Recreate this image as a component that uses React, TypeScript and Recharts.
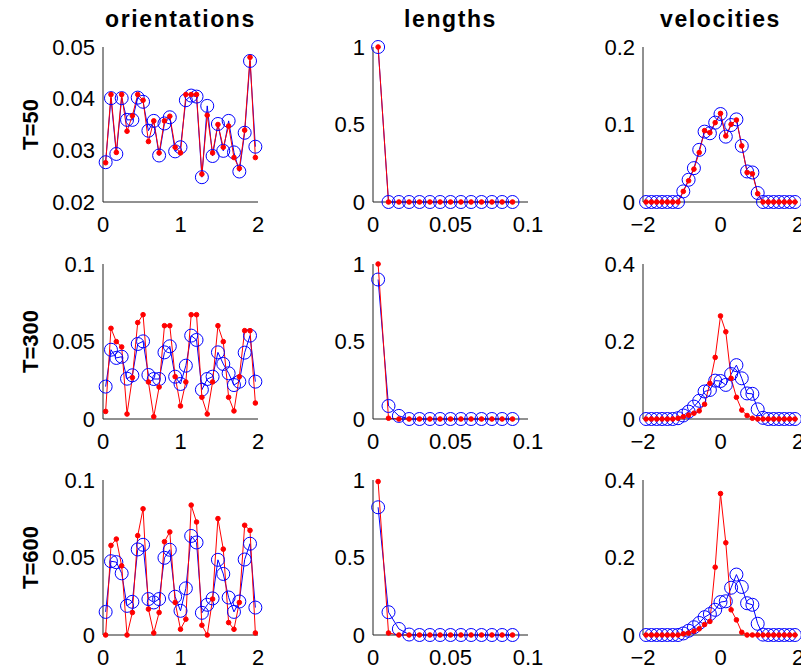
import React from 'react';
import { LineChart, Line, XAxis, YAxis } from 'recharts';

// x positions (bin centres)
const orientX = [0.034, 0.103, 0.172, 0.241, 0.310, 0.379, 0.448, 0.517, 0.586, 0.655, 0.724, 0.793, 0.862, 0.931, 1.000, 1.069, 1.138, 1.207, 1.276, 1.345, 1.414, 1.483, 1.552, 1.621, 1.690, 1.759, 1.828, 1.897, 1.966];
const lengthX = [0.0033, 0.01, 0.0167, 0.0233, 0.03, 0.0367, 0.0433, 0.05, 0.0567, 0.0633, 0.07, 0.0767, 0.0833, 0.09];
const velocityX = [-1.92, -1.783, -1.646, -1.509, -1.371, -1.234, -1.097, -0.96, -0.823, -0.686, -0.549, -0.411, -0.274, -0.137, 0, 0.137, 0.274, 0.411, 0.549, 0.686, 0.823, 0.96, 1.097, 1.234, 1.371, 1.509, 1.646, 1.783, 1.92];

// orientations
const orient50Red = [0.0276, 0.0408, 0.0296, 0.0408, 0.0337, 0.0367, 0.0408, 0.0397, 0.0317, 0.0357, 0.0295, 0.0357, 0.0366, 0.0306, 0.0295, 0.0408, 0.0408, 0.0408, 0.0254, 0.0368, 0.0295, 0.035, 0.0306, 0.0347, 0.0286, 0.0265, 0.0339, 0.048, 0.0286];
const orient50Blue = [0.0277, 0.0401, 0.0293, 0.0401, 0.0359, 0.0359, 0.0402, 0.0394, 0.0338, 0.0357, 0.029, 0.0352, 0.0364, 0.0298, 0.0306, 0.0397, 0.0406, 0.0404, 0.0248, 0.0386, 0.0289, 0.0351, 0.0299, 0.0357, 0.0296, 0.0259, 0.0334, 0.0473, 0.0307];
const orient300Red = [0.0049, 0.0585, 0.0499, 0.0465, 0.0032, 0.0267, 0.0622, 0.0673, 0.0239, 0.0015, 0.0206, 0.0602, 0.0602, 0.0273, 0.0084, 0.0239, 0.0673, 0.0673, 0.014, 0.0032, 0.0239, 0.0602, 0.0499, 0.014, 0.0052, 0.0273, 0.057, 0.057, 0.0103];
const orient300Blue = [0.0209, 0.0447, 0.0394, 0.0402, 0.026, 0.0282, 0.0484, 0.0501, 0.0284, 0.0258, 0.0258, 0.043, 0.0469, 0.0273, 0.0226, 0.0344, 0.0538, 0.051, 0.0189, 0.0258, 0.0273, 0.043, 0.0355, 0.0295, 0.0219, 0.0241, 0.0428, 0.0538, 0.0241];
const orient600Red = [0.0, 0.0578, 0.0619, 0.0446, 0.0, 0.0145, 0.0641, 0.0814, 0.0167, 0.0013, 0.0145, 0.0602, 0.0665, 0.021, 0.0037, 0.0102, 0.0838, 0.0729, 0.0063, 0.0, 0.0232, 0.0751, 0.0554, 0.008, 0.0037, 0.021, 0.0708, 0.0675, 0.0013];
const orient600Blue = [0.0149, 0.0476, 0.047, 0.0398, 0.0188, 0.0214, 0.0552, 0.0582, 0.0232, 0.021, 0.0232, 0.0498, 0.055, 0.0247, 0.0156, 0.0301, 0.0639, 0.0597, 0.0143, 0.0195, 0.0236, 0.0485, 0.0394, 0.0242, 0.0149, 0.0216, 0.0487, 0.0589, 0.0177];

// lengths
const length50Red = [1, 0, 0, 0, 0, 0, 0, 0, 0, 0, 0, 0, 0, 0];
const length50Blue = [1, 0, 0, 0, 0, 0, 0, 0, 0, 0, 0, 0, 0, 0];
const length300Red = [1, 0.005, 0, 0, 0, 0, 0, 0, 0, 0, 0, 0, 0, 0];
const length300Blue = [0.9, 0.084, 0.02, 0, 0, 0, 0, 0, 0, 0, 0, 0, 0, 0];
const length600Red = [0.99, 0.013, 0, 0, 0, 0, 0, 0, 0, 0, 0, 0, 0, 0];
const length600Blue = [0.824, 0.147, 0.039, 0.003, 0, 0, 0, 0, 0, 0, 0, 0, 0, 0];

// velocities
const vel50Red = [0, 0, 0, 0, 0, 0, 0, 0.0137, 0.0274, 0.0424, 0.0638, 0.0921, 0.0895, 0.1024, 0.1143, 0.0852, 0.1002, 0.1058, 0.0724, 0.0381, 0.0364, 0.0107, 0, 0, 0, 0, 0, 0, 0];
const vel50Blue = [0, 0, 0, 0, 0, 0, 0, 0.0137, 0.0287, 0.0437, 0.0673, 0.0908, 0.0887, 0.1024, 0.1135, 0.0843, 0.0993, 0.1066, 0.0724, 0.0394, 0.0381, 0.0116, 0, 0, 0, 0, 0, 0, 0];
const vel300Red = [0, 0, 0, 0, 0, 0, 0.002, 0.006, 0.01, 0.015, 0.021, 0.038, 0.092, 0.159, 0.266, 0.225, 0.105, 0.056, 0.023, 0.009, 0.002, 0, 0, 0, 0, 0, 0, 0, 0];
const vel300Blue = [0, 0, 0, 0, 0, 0, 0.002, 0.009, 0.019, 0.032, 0.047, 0.071, 0.075, 0.099, 0.098, 0.088, 0.116, 0.139, 0.105, 0.066, 0.065, 0.025, 0.003, 0, 0, 0, 0, 0, 0];
const vel600Red = [0, 0, 0, 0, 0, 0, 0, 0.003, 0.005, 0.01, 0.016, 0.027, 0.035, 0.175, 0.365, 0.238, 0.065, 0.039, 0.007, 0, 0, 0, 0, 0, 0, 0, 0, 0, 0];
const vel600Blue = [0, 0, 0, 0, 0, 0, 0, 0.004, 0.011, 0.02, 0.031, 0.046, 0.054, 0.065, 0.085, 0.087, 0.122, 0.156, 0.124, 0.082, 0.078, 0.029, 0.001, 0, 0, 0, 0, 0, 0];

// ticks
const orientXTicks = [0, 1, 2];
const lengthXTicks = [0, 0.05, 0.1];
const velocityXTicks = [-2, 0, 2];
const orient50YTicks = [0.02, 0.03, 0.04, 0.05];
const orientYTicks = [0, 0.05, 0.1];
const lengthYTicks = [0, 0.5, 1];
const vel50YTicks = [0, 0.1, 0.2];
const velYTicks = [0, 0.2, 0.4];

const titles = ['orientations', 'lengths', 'velocities'];
const rowLabels = ['T=50', 'T=300', 'T=600'];

const FONT = '"Liberation Sans", Arial, Helvetica, sans-serif';
const PLOT = 155;
const colLeft = [103, 373, 643];
const rowTop = [47, 264, 480];

const fmt = (v: number) => (v < 0 ? '\u2212' + String(-v) : String(v));

function Panel({ x, red, blue, xTicks, yTicks, left, top }: {
  x: number[]; red: number[]; blue: number[]; xTicks: number[]; yTicks: number[]; left: number; top: number;
}) {
  const data = x.map((v, i) => ({ x: v, red: red[i], blue: blue[i] }));
  const tickStyle = { fontSize: 22, fill: '#000', fontFamily: FONT };
  return (
    <div style={{ position: 'absolute', left: left - 60, top: top - 20 }}>
      <LineChart width={PLOT + 90} height={PLOT + 60} data={data} margin={{ top: 20, right: 30, left: 0, bottom: 0 }}>
        <XAxis
          type="number"
          dataKey="x"
          domain={[xTicks[0], xTicks[xTicks.length - 1]]}
          ticks={xTicks}
          interval={0}
          tickFormatter={fmt}
          height={40}
          tickLine={false}
          tickSize={0}
          tickMargin={14}
          stroke="#222"
          tick={tickStyle}
        />
        <YAxis
          type="number"
          domain={[yTicks[0], yTicks[yTicks.length - 1]]}
          ticks={yTicks}
          interval={0}
          tickFormatter={fmt}
          width={60}
          tickLine={false}
          tickSize={0}
          tickMargin={8}
          stroke="#222"
          tick={tickStyle}
        />
        <Line
          dataKey="blue"
          stroke="#0000ff"
          strokeWidth={1}
          dot={{ r: 6.5, stroke: '#0000ff', strokeWidth: 1, fill: 'none' }}
          isAnimationActive={false}
        />
        <Line
          dataKey="red"
          stroke="#ff0000"
          strokeWidth={1}
          dot={{ r: 2.3, stroke: '#ff0000', strokeWidth: 1, fill: '#ff0000' }}
          isAnimationActive={false}
        />
      </LineChart>
    </div>
  );
}

export default function App() {
  return (
    <div style={{ position: 'absolute', left: 0, top: 0, width: 801, height: 667, overflow: 'hidden', background: '#fff' }}>
      <svg width={801} height={667} style={{ position: 'absolute', left: 0, top: 0 }}>
        {titles.map((t, i) => (
          <text key={t} x={colLeft[i] + PLOT / 2} y={27} textAnchor="middle" fontFamily={FONT} fontWeight="bold" fontSize={23} letterSpacing={1.6}>
            {t}
          </text>
        ))}
        {rowLabels.map((t, i) => {
          const cy = rowTop[i] + PLOT / 2;
          return (
            <text key={t} x={38} y={cy} transform={`rotate(-90 38 ${cy})`} textAnchor="middle" fontFamily={FONT} fontWeight="bold" fontSize={22}>
              {t}
            </text>
          );
        })}
      </svg>

      <Panel x={orientX} red={orient50Red} blue={orient50Blue} xTicks={orientXTicks} yTicks={orient50YTicks} left={colLeft[0]} top={rowTop[0]} />
      <Panel x={lengthX} red={length50Red} blue={length50Blue} xTicks={lengthXTicks} yTicks={lengthYTicks} left={colLeft[1]} top={rowTop[0]} />
      <Panel x={velocityX} red={vel50Red} blue={vel50Blue} xTicks={velocityXTicks} yTicks={vel50YTicks} left={colLeft[2]} top={rowTop[0]} />

      <Panel x={orientX} red={orient300Red} blue={orient300Blue} xTicks={orientXTicks} yTicks={orientYTicks} left={colLeft[0]} top={rowTop[1]} />
      <Panel x={lengthX} red={length300Red} blue={length300Blue} xTicks={lengthXTicks} yTicks={lengthYTicks} left={colLeft[1]} top={rowTop[1]} />
      <Panel x={velocityX} red={vel300Red} blue={vel300Blue} xTicks={velocityXTicks} yTicks={velYTicks} left={colLeft[2]} top={rowTop[1]} />

      <Panel x={orientX} red={orient600Red} blue={orient600Blue} xTicks={orientXTicks} yTicks={orientYTicks} left={colLeft[0]} top={rowTop[2]} />
      <Panel x={lengthX} red={length600Red} blue={length600Blue} xTicks={lengthXTicks} yTicks={lengthYTicks} left={colLeft[1]} top={rowTop[2]} />
      <Panel x={velocityX} red={vel600Red} blue={vel600Blue} xTicks={velocityXTicks} yTicks={velYTicks} left={colLeft[2]} top={rowTop[2]} />
    </div>
  );
}
